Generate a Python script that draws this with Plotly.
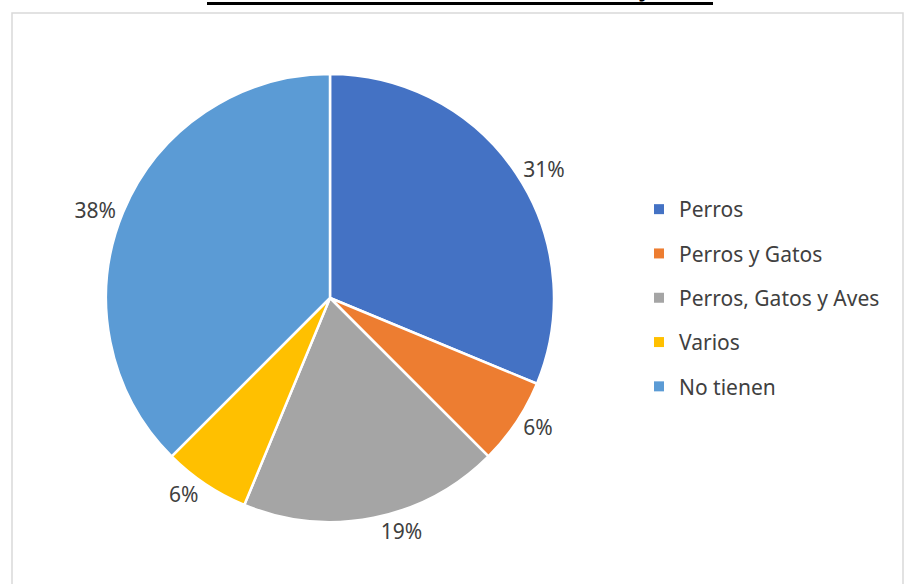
import plotly.graph_objects as go

categories = ["Perros", "Perros y Gatos", "Perros, Gatos y Aves", "Varios", "No tienen"]
values = [5, 1, 3, 1, 6]
colors = ["#4472C4", "#ED7D31", "#A5A5A5", "#FFC000", "#5B9BD5"]
title_text = "TENENCIA DE MASCOTAS EN LA CIUDAD DE CAJAMARCA"

W, H = 906, 584
FONT = "Noto Sans"

fig = go.Figure()
fig.add_trace(go.Pie(
    labels=categories, values=values, sort=False, direction="clockwise", rotation=0,
    marker=dict(colors=colors, line=dict(color="white", width=2.5)),
    textposition="outside", texttemplate="%{percent:.0%}",
    textfont=dict(family=FONT, size=21, color="#404040"),
    showlegend=False, hoverinfo="label+percent",
    domain=dict(x=[(330 - 224) / W, (330 + 224) / W], y=[1 - 522 / H, 1 - 74 / H]),
))

for i, (c, col) in enumerate(zip(categories, colors)):
    fig.add_trace(go.Scatter(
        x=[None], y=[None], mode="markers", name=c, legendgroup=f"g{i}",
        marker=dict(symbol="square", size=10, color=col),
    ))

fig.update_layout(
    width=W, height=H, margin=dict(l=0, r=0, t=0, b=0),
    paper_bgcolor="white", plot_bgcolor="white",
    xaxis=dict(visible=False), yaxis=dict(visible=False),
    legend=dict(x=639 / W, y=1 - 189 / H, xanchor="left", yanchor="top",
                font=dict(family=FONT, size=21, color="#404040"),
                tracegroupgap=14, itemclick=False),
    shapes=[
        dict(type="rect", xref="paper", yref="paper", x0=12 / W, x1=903 / W,
             y0=-0.05, y1=1 - 13 / H, line=dict(color="#D9D9D9", width=1.5)),
        dict(type="line", xref="paper", yref="paper", x0=207 / W, x1=713 / W,
             y0=1 - 3.5 / H, y1=1 - 3.5 / H, line=dict(color="black", width=3)),
    ],
    annotations=[dict(text=f"<b>{title_text}</b>", xref="paper", yref="paper",
                      x=460 / W, y=1 - 5 / H, xanchor="center", yanchor="bottom",
                      showarrow=False, font=dict(family=FONT, size=20, color="black"))],
)

fig.write_html("out.html", config={"displayModeBar": False},
               post_script="document.body.style.margin='0';document.body.style.overflow='hidden';")
